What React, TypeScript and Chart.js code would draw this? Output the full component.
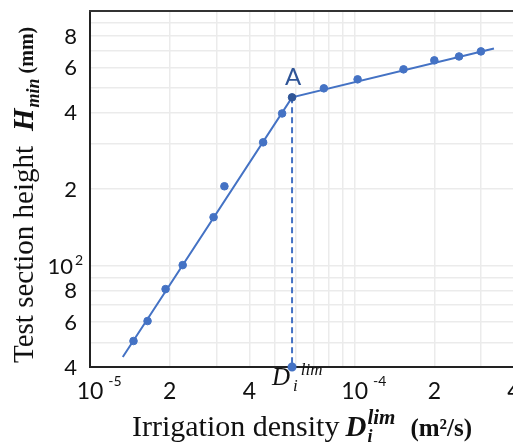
import React, { useEffect, useRef } from 'react';
import { Chart, registerables } from 'chart.js';

Chart.register(...registerables);

const BLUE = '#4472C4';
const DARK_BLUE = '#2F5597';

// axis ranges
const xMin = 1e-5;
const xMax = 4e-4;
const yMin = 40;
const yMax = 1000;

// measured points: irrigation density (m2/s) vs test section height (mm)
const densityX = [1.46e-5, 1.65e-5, 1.93e-5, 2.24e-5, 2.93e-5, 3.22e-5, 4.51e-5, 5.32e-5, 5.8e-5, 7.65e-5, 1.026e-4, 1.53e-4, 2.0e-4, 2.48e-4, 3.0e-4];
const heightY = [50.6, 60.6, 80.9, 100.5, 155, 205, 305, 396, 458, 497, 539, 590, 640, 663, 694];

// break point A (D_i^lim)
const pointAX = 5.8e-5;
const pointAY = 458;

// fitted two-segment line
const fitX = [1.33e-5, 5.8e-5, 3.36e-4];
const fitY = [43.8, 458, 713];

// grid positions
const xGrid = [1e-5, 2e-5, 3e-5, 4e-5, 5e-5, 6e-5, 7e-5, 8e-5, 9e-5, 1e-4, 2e-4, 3e-4, 4e-4];
const yGrid = [40, 50, 60, 70, 80, 90, 100, 200, 300, 400, 500, 600, 700, 800, 900, 1000];

// tick labels
const xTickValues = [1e-5, 2e-5, 4e-5, 1e-4, 2e-4, 4e-4];
const xTickBase = ['10', '2', '4', '10', '2', '4'];
const xTickSup = ['-5', '', '', '-4', '', ''];
const yTickValues = [40, 60, 80, 100, 200, 400, 600, 800];
const yTickBase = ['4', '6', '8', '10', '2', '4', '6', '8'];
const yTickSup = ['', '', '', '2', '', '', '', ''];

const SERIF = '"Liberation Serif", "Times New Roman", serif';
const SANS = 'Lato, "Open Sans", sans-serif';

type Run = { text: string; font: string; dy?: number; gap?: number; stack?: boolean };

function drawRuns(ctx: CanvasRenderingContext2D, runs: Run[], x0: number, y0: number) {
  let x = x0;
  let stackStart: number | null = null;
  let stackMax = 0;
  for (const r of runs) {
    x += r.gap || 0;
    ctx.font = r.font;
    ctx.fillText(r.text, x, y0 + (r.dy || 0));
    const w = ctx.measureText(r.text).width;
    if (r.stack) {
      stackStart = x;
      stackMax = w;
    } else if (stackStart !== null) {
      x = stackStart + Math.max(stackMax, w);
      stackStart = null;
    } else {
      x += w;
    }
  }
}

const annotPlugin = {
  id: 'annot',
  afterDraw(chart: any) {
    const { ctx, chartArea: ca, scales } = chart;
    const xs = scales.x;
    const ys = scales.y;
    ctx.save();

    // top frame line
    ctx.strokeStyle = '#333';
    ctx.lineWidth = 2;
    ctx.beginPath();
    ctx.moveTo(ca.left - 1, ca.top);
    ctx.lineTo(ca.right, ca.top);
    ctx.stroke();

    ctx.fillStyle = '#111';
    ctx.textBaseline = 'alphabetic';

    // y tick labels
    yTickValues.forEach((v, i) => {
      const py = ys.getPixelForValue(v);
      ctx.font = `22px ${SANS}`;
      const sup = yTickSup[i];
      ctx.textAlign = 'right';
      const right = sup ? ca.left - 17 : ca.left - 13;
      ctx.fillText(yTickBase[i], right, py + 8);
      if (sup) {
        ctx.textAlign = 'left';
        ctx.font = `14px ${SANS}`;
        ctx.fillText(sup, right + 2, py - 1);
      }
    });

    // x tick labels
    xTickValues.forEach((v, i) => {
      const px = xs.getPixelForValue(v);
      ctx.font = `23px ${SANS}`;
      ctx.textAlign = 'center';
      const base = xTickBase[i];
      ctx.fillText(base, px, ca.bottom + 32);
      const sup = xTickSup[i];
      if (sup) {
        const w = ctx.measureText(base).width;
        ctx.textAlign = 'left';
        ctx.font = `14px ${SANS}`;
        ctx.fillText(sup, px + w / 2 + 5, ca.bottom + 19);
      }
    });

    // D_i^lim tick label under point A
    const pxA = xs.getPixelForValue(pointAX);
    const pyA = ys.getPixelForValue(pointAY);
    ctx.textAlign = 'left';
    drawRuns(ctx, [
      { text: 'D', font: `italic 25px ${SERIF}` },
      { text: 'i', font: `italic 17px ${SERIF}`, dy: 6, gap: 3 },
      { text: 'lim', font: `italic 17px ${SERIF}`, dy: -10, gap: 3 },
    ], pxA - 20, ca.bottom + 18);

    // label A
    ctx.fillStyle = DARK_BLUE;
    ctx.textAlign = 'center';
    ctx.font = `24px ${SANS}`;
    ctx.fillText('A', pxA + 1, pyA - 12);

    // x title
    ctx.fillStyle = '#111';
    ctx.textAlign = 'left';
    drawRuns(ctx, [
      { text: 'Irrigation density', font: `30px ${SERIF}` },
      { text: 'D', font: `bold italic 29px ${SERIF}`, gap: 6 },
      { text: 'i', font: `bold italic 18px ${SERIF}`, dy: 6, gap: 1, stack: true },
      { text: 'lim', font: `bold italic 21px ${SERIF}`, dy: -12 },
      { text: '(m²/s)', font: `bold 25px ${SERIF}`, gap: 15 },
    ], 132, 436);

    // y title (rotated)
    ctx.save();
    ctx.translate(33, 363);
    ctx.rotate(-Math.PI / 2);
    drawRuns(ctx, [
      { text: 'Test section height', font: `29px ${SERIF}` },
      { text: 'H', font: `bold italic 29px ${SERIF}`, gap: 15 },
      { text: 'min', font: `bold italic 18px ${SERIF}`, dy: 6, gap: 1 },
      { text: '(mm)', font: `bold 20px ${SERIF}`, gap: 5 },
    ], 0, 0);
    ctx.restore();

    ctx.restore();
  },
};

export default function App() {
  const canvasRef = useRef<HTMLCanvasElement | null>(null);

  useEffect(() => {
    const canvas = canvasRef.current;
    if (!canvas) return;

    const measured = densityX.map((x, i) => ({ x, y: heightY[i] }));
    const fit = fitX.map((x, i) => ({ x, y: fitY[i] }));
    const drop = [
      { x: pointAX, y: pointAY },
      { x: pointAX, y: yMin },
    ];
    const pointColors = densityX.map((x) => (x === pointAX ? DARK_BLUE : BLUE));

    const chart = new Chart(canvas, {
      type: 'scatter',
      data: {
        datasets: [
          {
            label: 'fit',
            data: fit,
            showLine: true,
            borderColor: BLUE,
            borderWidth: 2,
            pointRadius: 0,
            order: 3,
          },
          {
            label: 'drop',
            data: drop,
            showLine: true,
            borderColor: BLUE,
            borderWidth: 2,
            borderDash: [6, 4],
            pointRadius: [0, 3.5],
            pointBackgroundColor: BLUE,
            pointBorderColor: BLUE,
            clip: false as any,
            order: 2,
          },
          {
            label: 'measured',
            data: measured,
            pointRadius: 3.8,
            pointBackgroundColor: pointColors,
            pointBorderColor: pointColors,
            pointBorderWidth: 1,
            order: 1,
          },
        ],
      },
      options: {
        animation: false,
        responsive: false,
        layout: { padding: { left: 90, top: 11, right: 0, bottom: 77 } },
        plugins: {
          legend: { display: false },
          tooltip: { enabled: false },
        },
        scales: {
          x: {
            type: 'logarithmic',
            min: xMin,
            max: xMax,
            afterBuildTicks: (s: any) => {
              s.ticks = xGrid.map((v) => ({ value: v }));
            },
            ticks: { display: false, autoSkip: false },
            grid: { color: '#ebebeb', lineWidth: 1.5, drawTicks: false },
            border: { display: true, color: '#222', width: 2 },
          },
          y: {
            type: 'logarithmic',
            min: yMin,
            max: yMax,
            afterBuildTicks: (s: any) => {
              s.ticks = yGrid.map((v) => ({ value: v }));
            },
            ticks: { display: false, autoSkip: false },
            grid: { color: '#ebebeb', lineWidth: 1.5, drawTicks: false },
            border: { display: true, color: '#222', width: 2 },
          },
        },
      },
      plugins: [annotPlugin],
    } as any);

    return () => chart.destroy();
  }, []);

  return (
    <div style={{ position: 'absolute', left: 0, top: 0, width: 513, height: 444, overflow: 'hidden', background: '#fff' }}>
      <canvas ref={canvasRef} width={520} height={444} style={{ display: 'block' }} />
    </div>
  );
}
